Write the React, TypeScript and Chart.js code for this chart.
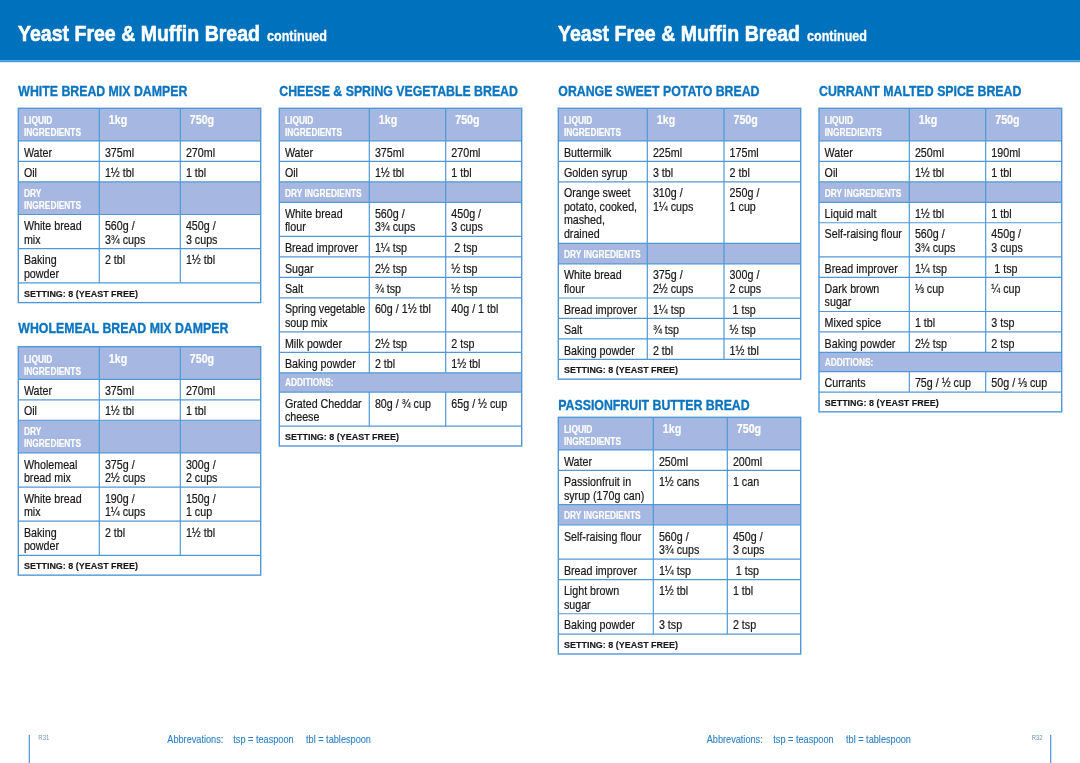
import React, { useEffect, useRef } from "react";
import { Chart, registerables } from "chart.js";

Chart.register(...registerables);

// ---------- DATA ----------
const pageTitle = "Yeast Free & Muffin Bread";
const pageTitleSuffix = "continued";
const columnHeads = ["LIQUID\nINGREDIENTS", "1kg", "750g"];
const settingLabel = "SETTING: 8 (YEAST FREE)";
const abbreviationParts = ["Abbrevations:", "tsp = teaspoon", "tbl = tablespoon"];
const pageNumbers = ["R31", "R32"];

const tableTitles = [
  "WHITE BREAD MIX DAMPER",
  "WHOLEMEAL BREAD MIX DAMPER",
  "CHEESE & SPRING VEGETABLE BREAD",
  "ORANGE SWEET POTATO BREAD",
  "PASSIONFRUIT BUTTER BREAD",
  "CURRANT MALTED SPICE BREAD",
];

type Row = string[] | { section: string; span?: boolean };

const whiteDamperRows: Row[] = [
  ["Water", "375ml", "270ml"],
  ["Oil", "1½ tbl", "1 tbl"],
  { section: "DRY\nINGREDIENTS" },
  ["White bread\nmix", "560g /\n3¾ cups", "450g /\n3 cups"],
  ["Baking\npowder", "2 tbl", "1½ tbl"],
];

const wholemealDamperRows: Row[] = [
  ["Water", "375ml", "270ml"],
  ["Oil", "1½ tbl", "1 tbl"],
  { section: "DRY\nINGREDIENTS" },
  ["Wholemeal\nbread mix", "375g /\n2½ cups", "300g /\n2 cups"],
  ["White bread\nmix", "190g /\n1¼ cups", "150g /\n1 cup"],
  ["Baking\npowder", "2 tbl", "1½ tbl"],
];

const cheeseRows: Row[] = [
  ["Water", "375ml", "270ml"],
  ["Oil", "1½ tbl", "1 tbl"],
  { section: "DRY INGREDIENTS" },
  ["White bread\nflour", "560g /\n3¾ cups", "450g /\n3 cups"],
  ["Bread improver", "1¼ tsp", " 2 tsp"],
  ["Sugar", "2½ tsp", "½ tsp"],
  ["Salt", "¾ tsp", "½ tsp"],
  ["Spring vegetable\nsoup mix", "60g / 1½ tbl", "40g / 1 tbl"],
  ["Milk powder", "2½ tsp", "2 tsp"],
  ["Baking powder", "2 tbl", "1½ tbl"],
  { section: "ADDITIONS:", span: true },
  ["Grated Cheddar\ncheese", "80g / ¾ cup", "65g / ½ cup"],
];

const orangeRows: Row[] = [
  ["Buttermilk", "225ml", "175ml"],
  ["Golden syrup", "3 tbl", "2 tbl"],
  ["Orange sweet\npotato, cooked,\nmashed,\ndrained", "310g /\n1¼ cups", "250g /\n1 cup"],
  { section: "DRY INGREDIENTS" },
  ["White bread\nflour", "375g /\n2½ cups", "300g /\n2 cups"],
  ["Bread improver", "1¼ tsp", " 1 tsp"],
  ["Salt", "¾ tsp", "½ tsp"],
  ["Baking powder", "2 tbl", "1½ tbl"],
];

const passionfruitRows: Row[] = [
  ["Water", "250ml", "200ml"],
  ["Passionfruit in\nsyrup (170g can)", "1½ cans", "1 can"],
  { section: "DRY INGREDIENTS" },
  ["Self-raising flour", "560g /\n3¾ cups", "450g /\n3 cups"],
  ["Bread improver", "1¼ tsp", " 1 tsp"],
  ["Light brown\nsugar", "1½ tbl", "1 tbl"],
  ["Baking powder", "3 tsp", "2 tsp"],
];

const currantRows: Row[] = [
  ["Water", "250ml", "190ml"],
  ["Oil", "1½ tbl", "1 tbl"],
  { section: "DRY INGREDIENTS" },
  ["Liquid malt", "1½ tbl", "1 tbl"],
  ["Self-raising flour", "560g /\n3¾ cups", "450g /\n3 cups"],
  ["Bread improver", "1¼ tsp", " 1 tsp"],
  ["Dark brown\nsugar", "⅓ cup", "¼ cup"],
  ["Mixed spice", "1 tbl", "3 tsp"],
  ["Baking powder", "2½ tsp", "2 tsp"],
  { section: "ADDITIONS:", span: true },
  ["Currants", "75g / ½ cup", "50g / ⅓ cup"],
];

const tableRows = [whiteDamperRows, wholemealDamperRows, cheeseRows, orangeRows, passionfruitRows, currantRows];

// ---------- LAYOUT / STYLE ----------
const tableFrames = [
  { left: 18.3, c1: 99.3, c2: 180.3, right: 260.7, top: 108.3, titleBase: 96 },
  { left: 18.3, c1: 99.3, c2: 180.3, right: 260.7, top: 346.7, titleBase: 332.8 },
  { left: 279.3, c1: 369.3, c2: 445.7, right: 521.7, top: 108.3, titleBase: 96 },
  { left: 558.3, c1: 647.3, c2: 724, right: 800.7, top: 108.3, titleBase: 96 },
  { left: 558.3, c1: 653.3, c2: 727.3, right: 800.7, top: 417.3, titleBase: 410.3 },
  { left: 819, c1: 909.3, c2: 985.7, right: 1061.7, top: 108.3, titleBase: 96 },
];
const pageLefts = [18, 558];
const footerLayout = [
  { rule: 29.3, num: 38.3, parts: [167.3, 233.3, 306] },
  { rule: 1050.7, num: 1031.7, parts: [706.7, 773.3, 846] },
];

const BAND = "#0071bc";
const BAND_EDGE = "#3b9be0";
const TITLE_BLUE = "#0b74bf";
const HEAD_FILL = "#a6b8e1";
const RULE = "#4f98d6";
const INK = "#1a1718";
const FOOT_BLUE = "#2b7fc6";

const NARROW = "'Liberation Sans Narrow', 'Liberation Sans', Arial, sans-serif";

const fontStyles = {
  page: { font: `bold 22.5px ${NARROW}`, ref: "Yeast Free & Muffin Bread", w: 242, bold: 0.6 },
  pageSub: { font: `bold 14.5px ${NARROW}`, ref: "continued", w: 60, bold: 0.3 },
  title: { font: `bold 15px ${NARROW}`, ref: "WHITE BREAD MIX DAMPER", w: 169, bold: 0.35 },
  head: { font: `bold 11.8px ${NARROW}`, ref: "INGREDIENTS", w: 57, bold: 0.2 },
  headValue: { font: `bold 13px ${NARROW}`, ref: "750g", w: 24.3, bold: 0.2 },
  body: { font: `12.4px ${NARROW}`, ref: "White bread", w: 57.7, bold: 0.2 },
  setting: { font: `bold 9.6px ${NARROW}`, ref: "SETTING: 8 (YEAST FREE)", w: 114, bold: 0.15 },
  foot: { font: `10.2px ${NARROW}`, ref: "Abbrevations:", w: 56, bold: 0.1 },
  pnum: { font: `6.5px ${NARROW}`, ref: "R31", w: 11, bold: 0 },
};
type FS = { font: string; ref: string; w: number; bold: number };

const pagePlugin = {
  id: "recipePage",
  afterDraw(chart: any) {
    const ctx: CanvasRenderingContext2D = chart.ctx;
    const xs = chart.scales.x;
    const ys = chart.scales.y;
    const X = (v: number) => xs.getPixelForValue(v);
    const Y = (v: number) => ys.getPixelForValue(v);

    const squeeze = (st: FS) => {
      ctx.font = st.font;
      return st.w / ctx.measureText(st.ref).width;
    };
    const text = (s: string, x: number, y: number, st: FS, color: string) => {
      ctx.save();
      const k = squeeze(st);
      ctx.font = st.font;
      ctx.fillStyle = color;
      ctx.strokeStyle = color;
      ctx.lineJoin = "round";
      ctx.textAlign = "left";
      ctx.textBaseline = "alphabetic";
      ctx.translate(X(x), Y(y));
      ctx.scale(k, 1);
      ctx.fillText(s, 0, 0);
      if (st.bold > 0) {
        ctx.lineWidth = st.bold;
        ctx.strokeText(s, 0, 0);
      }
      ctx.restore();
    };
    const width = (s: string, st: FS) => {
      const k = squeeze(st);
      ctx.font = st.font;
      return ctx.measureText(s).width * k;
    };
    const multi = (s: string, x: number, y: number, step: number, st: FS, color: string) => {
      s.split("\n").forEach((ln, i) => text(ln, x, y + i * step, st, color));
    };
    const hline = (x1: number, x2: number, y: number) => {
      ctx.beginPath();
      ctx.moveTo(X(x1), Y(y));
      ctx.lineTo(X(x2), Y(y));
      ctx.stroke();
    };
    const vline = (x: number, y1: number, y2: number) => {
      ctx.beginPath();
      ctx.moveTo(X(x), Y(y1));
      ctx.lineTo(X(x), Y(y2));
      ctx.stroke();
    };

    ctx.save();
    ctx.fillStyle = "#ffffff";
    ctx.fillRect(0, 0, chart.width, chart.height);

    // header band
    ctx.fillStyle = BAND;
    ctx.fillRect(X(0), Y(0), X(1080) - X(0), Y(60.5) - Y(0));
    ctx.fillStyle = BAND_EDGE;
    ctx.fillRect(X(0), Y(60.5), X(1080) - X(0), Y(62.2) - Y(60.5));

    pageLefts.forEach((px) => {
      text(pageTitle, px, 41.3, fontStyles.page, "#ffffff");
      const w = width(pageTitle, fontStyles.page);
      text(pageTitleSuffix, px + w + 7, 41.3, fontStyles.pageSub, "#ffffff");
    });

    // tables
    tableRows.forEach((rows, ti) => {
      const f = tableFrames[ti];
      text(tableTitles[ti], f.left, f.titleBase, fontStyles.title, TITLE_BLUE);

      type R = { kind: string; cells: string[]; h: number; top: number };
      const list: R[] = [];
      let y = f.top;
      const push = (kind: string, cells: string[], h: number) => {
        list.push({ kind, cells, h, top: y });
        y += h;
      };
      const lines = (cells: string[]) => Math.max(...cells.map((c) => c.split("\n").length));
      push("head", columnHeads, 20.45 + (lines(columnHeads) - 1) * 12.2);
      rows.forEach((r) => {
        if (Array.isArray(r)) {
          push("body", r, 20.45 + (lines(r) - 1) * 13.7);
        } else if (r.span) {
          push("span", [r.section], 19.2);
        } else {
          push("section", [r.section], 20.45 + (lines([r.section]) - 1) * 12.2);
        }
      });
      push("setting", [settingLabel], 19.8);
      const bottom = y;
      const cols = [f.left, f.c1, f.c2];

      list.forEach((r) => {
        if (r.kind === "head" || r.kind === "section" || r.kind === "span") {
          ctx.fillStyle = HEAD_FILL;
          ctx.fillRect(X(f.left), Y(r.top), X(f.right) - X(f.left), Y(r.top + r.h) - Y(r.top));
        }
      });

      list.forEach((r) => {
        if (r.kind === "head") {
          r.cells.forEach((c, i) => {
            if (i === 0) multi(c, cols[i] + 5.7, r.top + 15.8, 12, fontStyles.head, "#ffffff");
            else text(c, cols[i] + 9.5, r.top + 16, fontStyles.headValue, "#ffffff");
          });
        } else if (r.kind === "section") {
          multi(r.cells[0], f.left + 5.7, r.top + 14.7, 12, fontStyles.head, "#ffffff");
        } else if (r.kind === "span") {
          text(r.cells[0], f.left + 5.7, r.top + 13.2, fontStyles.head, "#ffffff");
        } else if (r.kind === "body") {
          r.cells.forEach((c, i) => {
            multi(c, cols[i] + 5.6, r.top + 15.6, 13.5, fontStyles.body, INK);
          });
        } else {
          text(r.cells[0], f.left + 5.7, r.top + 13.7, fontStyles.setting, INK);
        }
      });

      ctx.strokeStyle = RULE;
      ctx.lineWidth = 1.2;
      list.forEach((r, i) => {
        if (i > 0) hline(f.left, f.right, r.top);
        if (r.kind !== "span" && r.kind !== "setting") {
          vline(f.c1, r.top, r.top + r.h);
          vline(f.c2, r.top, r.top + r.h);
        }
      });
      ctx.lineWidth = 1.4;
      ctx.strokeRect(X(f.left), Y(f.top), X(f.right) - X(f.left), Y(bottom) - Y(f.top));
    });

    // footers
    footerLayout.forEach((fl, i) => {
      ctx.strokeStyle = "#5a9ad6";
      ctx.lineWidth = 1.3;
      vline(fl.rule, 735, 763);
      text(pageNumbers[i], fl.num, 740, fontStyles.pnum, "#6f93bf");
      abbreviationParts.forEach((p, j) => text(p, fl.parts[j], 743.3, fontStyles.foot, FOOT_BLUE));
    });

    ctx.restore();
  },
};

export default function App() {
  const ref = useRef<HTMLCanvasElement>(null);
  useEffect(() => {
    document.body.style.margin = "0";
    const chart = new Chart(ref.current as HTMLCanvasElement, {
      type: "scatter",
      data: { datasets: [] },
      options: {
        responsive: false,
        animation: false,
        events: [],
        layout: { padding: 0 },
        plugins: { legend: { display: false }, tooltip: { enabled: false }, title: { display: false } },
        scales: {
          x: { type: "linear", min: 0, max: 1080, display: false },
          y: { type: "linear", min: 0, max: 763, reverse: true, display: false },
        },
      },
      plugins: [pagePlugin],
    } as any);
    return () => chart.destroy();
  }, []);
  return <canvas ref={ref} width={1080} height={763} style={{ display: "block" }} />;
}
